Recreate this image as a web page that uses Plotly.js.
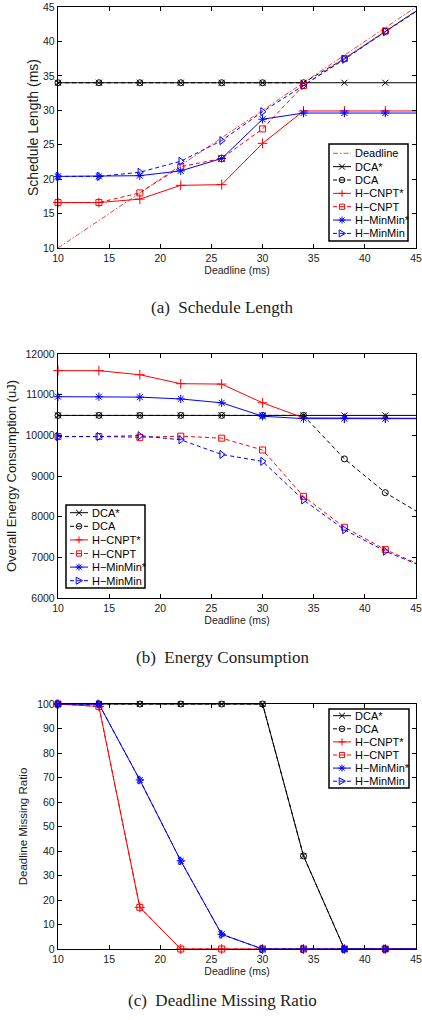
<!DOCTYPE html>
<html><head><meta charset="utf-8">
<script src="https://cdn.plot.ly/plotly-3.0.1.min.js"></script>
<style>html,body{margin:0;padding:0;background:#fff;}#chart{width:422px;height:1020px;}</style>
</head><body><div id="chart"></div>
<script>
// ---------- data ----------
const deadlines = [10, 14, 18, 22, 26, 30, 34, 38, 42, 46];
const seriesNames = ['Deadline', 'DCA*', 'DCA', 'H\u2212CNPT*', 'H\u2212CNPT', 'H\u2212MinMin*', 'H\u2212MinMin'];

// (a) Schedule Length (ms)
const slDeadline = [10, 14, 18, 22, 26, 30, 34, 38, 42, 46];
const slDCAstar  = [34, 34, 34, 34, 34, 34, 34, 34, 34, 34];
const slDCA      = [34, 34, 34, 34, 34, 34, 34, 37.5, 41.5, 45.4];
const slCNPTstar = [16.6, 16.6, 17.1, 19.1, 19.2, 25.2, 29.9, 29.9, 29.9, 29.9];
const slCNPT     = [16.6, 16.6, 18.0, 21.8, 23.0, 27.3, 33.6, 37.5, 41.5, 45.4];
const slMinStar  = [20.4, 20.4, 20.5, 21.2, 23.0, 28.7, 29.6, 29.6, 29.6, 29.6];
const slMin      = [20.4, 20.4, 21.0, 22.6, 25.6, 29.8, 33.6, 37.4, 41.4, 45.3];

// (b) Overall Energy Consumption (uJ)
const ecDCAstar  = [10490, 10490, 10490, 10490, 10490, 10490, 10490, 10490, 10490, 10490];
const ecDCA      = [10490, 10490, 10490, 10490, 10490, 10490, 10490, 9420, 8590, 7990];
const ecCNPTstar = [11590, 11590, 11490, 11270, 11260, 10800, 10430, 10420, 10420, 10420];
const ecCNPT     = [9970, 9970, 9950, 9980, 9930, 9640, 8500, 7740, 7190, 6750];
const ecMinStar  = [10950, 10950, 10940, 10895, 10800, 10470, 10410, 10410, 10410, 10410];
const ecMin      = [9970, 9970, 9990, 9890, 9530, 9360, 8410, 7680, 7150, 6740];

// (c) Deadline Missing Ratio
const dmDCAstar  = [100, 100, 100, 100, 100, 100, 38, 0, 0, 0];
const dmDCA      = [100, 100, 100, 100, 100, 100, 38, 0, 0, 0];
const dmCNPTstar = [100, 99, 17, 0, 0, 0, 0, 0, 0, 0];
const dmCNPT     = [100, 99, 17, 0, 0, 0, 0, 0, 0, 0];
const dmMinStar  = [100, 100, 69, 36, 6, 0, 0, 0, 0, 0];
const dmMin      = [100, 100, 69, 36, 6, 0, 0, 0, 0, 0];

const xTicks = [10, 15, 20, 25, 30, 35, 40, 45];
const captions = ['(a)  Schedule Length', '(b)  Energy Consumption', '(c)  Deadline Missing Ratio'];
const yTitles = ['Schedule Length (ms)', 'Overall Energy Consumption (uJ)', 'Deadline Missing Ratio'];
const xTitle = 'Deadline (ms)';

// ---------- styles ----------
const W = 422, H = 1020;
const styles = {
  'Deadline':      {color: 'rgba(255,0,0,0.85)', dash: '5px,2px,1.5px,2px', width: 0.9, symbol: null},
  'DCA*':          {color: '#000000', dash: 'solid', width: 1, symbol: 'x'},
  'DCA':           {color: '#000000', dash: '4px,3px', width: 1, symbol: 'circle'},
  'H\u2212CNPT*':  {color: '#ff0000', dash: 'solid', width: 1, symbol: 'cross'},
  'H\u2212CNPT':   {color: '#ff0000', dash: '4px,3px', width: 1, symbol: 'square'},
  'H\u2212MinMin*':{color: '#0000ff', dash: 'solid', width: 1, symbol: 'asterisk'},
  'H\u2212MinMin': {color: '#0000ff', dash: '4px,3px', width: 1, symbol: 'triangle-right'}
};
const plotlySymbol = {'x': 'x-thin-open', 'circle': 'circle-open', 'cross': 'cross-thin-open',
  'square': 'square-open', 'asterisk': 'asterisk-open', 'triangle-right': 'triangle-right-open'};
const symbolSize = {'x': 6, 'circle': 6, 'cross': 7, 'square': 6, 'asterisk': 7, 'triangle-right': 7};

function makeTrace(name, ys, ax) {
  const s = styles[name];
  const t = {
    x: deadlines, y: ys, name: name, type: 'scatter',
    mode: s.symbol ? 'lines+markers' : 'lines',
    line: {color: s.color, dash: s.dash, width: s.width},
    xaxis: 'x' + (ax === 1 ? '' : ax), yaxis: 'y' + (ax === 1 ? '' : ax),
    cliponaxis: false, showlegend: false, hoverinfo: 'x+y+name'
  };
  if (s.symbol) t.marker = {symbol: plotlySymbol[s.symbol], size: symbolSize[s.symbol], color: s.color, line: {color: s.color, width: 1}};
  return t;
}

const traces = [];
const setA = [slDeadline, slDCAstar, slDCA, slCNPTstar, slCNPT, slMinStar, slMin];
seriesNames.forEach((n, i) => traces.push(makeTrace(n, setA[i], 1)));
const setB = [ecDCAstar, ecDCA, ecCNPTstar, ecCNPT, ecMinStar, ecMin];
seriesNames.slice(1).forEach((n, i) => traces.push(makeTrace(n, setB[i], 2)));
const setC = [dmDCAstar, dmDCA, dmCNPTstar, dmCNPT, dmMinStar, dmMin];
seriesNames.slice(1).forEach((n, i) => traces.push(makeTrace(n, setC[i], 3)));

// ---------- layout ----------
const AX_FONT = 'Liberation Sans, Arial, sans-serif';
const px = x => x / W, py = y => 1 - y / H;
const xDom = [px(58), px(416)];
const yDoms = [[py(248), py(7)], [py(598), py(354)], [py(949), py(704)]];
const yRanges = [[10, 45], [6000, 12000], [0, 100]];
const yDticks = [5, 1000, 10];
const yTitleSizes = [14, 13, 11.5];
const yStandoffs = [1, 6, 7];

function xAxis(i) {
  return {
    domain: xDom, anchor: 'y' + (i === 1 ? '' : i), range: [10, 45], tickvals: xTicks,
    ticks: 'inside', ticklen: 4, tickcolor: '#000', mirror: 'ticks', showline: true,
    linecolor: '#000', linewidth: 1.2, showgrid: false, zeroline: false,
    tickfont: {family: AX_FONT, size: 10.5, color: '#1a1a1a'}, ticklabeloverflow: 'allow',
    title: {text: xTitle, font: {family: AX_FONT, size: 10.5, color: '#1a1a1a'}, standoff: 1},
    automargin: false
  };
}
function yAxis(i) {
  return {
    domain: yDoms[i - 1], anchor: 'x' + (i === 1 ? '' : i), range: yRanges[i - 1], dtick: yDticks[i - 1],
    tick0: yRanges[i - 1][0],
    tickformat: 'd', ticks: 'inside', ticklen: 4, tickcolor: '#000', mirror: 'ticks', showline: true,
    linecolor: '#000', linewidth: 1.2, showgrid: false, zeroline: false,
    tickfont: {family: AX_FONT, size: 10.5, color: '#1a1a1a'}, ticklabeloverflow: 'allow',
    title: {text: yTitles[i - 1], font: {family: AX_FONT, size: yTitleSizes[i - 1], color: '#1a1a1a'}, standoff: yStandoffs[i - 1]},
    automargin: false
  };
}

// ---------- manual MATLAB-style legends ----------
const shapes = [];
const annotations = [];
function glyph(sym, cx, cy, color) {
  const P = (x, y) => px(x).toFixed(5) + ',' + py(y).toFixed(5);
  const base = {xref: 'paper', yref: 'paper', line: {color: color, width: 1}, layer: 'above'};
  const r = 2.8;
  if (sym === 'circle') return [Object.assign({type: 'circle', x0: px(cx - r), x1: px(cx + r), y0: py(cy + r), y1: py(cy - r)}, base)];
  if (sym === 'square') return [Object.assign({type: 'rect', x0: px(cx - 2.6), x1: px(cx + 2.6), y0: py(cy + 2.6), y1: py(cy - 2.6)}, base)];
  let path = '';
  if (sym === 'x') path = 'M' + P(cx - 3, cy - 3) + 'L' + P(cx + 3, cy + 3) + 'M' + P(cx - 3, cy + 3) + 'L' + P(cx + 3, cy - 3);
  if (sym === 'cross') path = 'M' + P(cx - 3.5, cy) + 'L' + P(cx + 3.5, cy) + 'M' + P(cx, cy - 3.5) + 'L' + P(cx, cy + 3.5);
  if (sym === 'asterisk') path = 'M' + P(cx - 3.5, cy) + 'L' + P(cx + 3.5, cy) + 'M' + P(cx, cy - 3.5) + 'L' + P(cx, cy + 3.5) +
      'M' + P(cx - 2.5, cy - 2.5) + 'L' + P(cx + 2.5, cy + 2.5) + 'M' + P(cx - 2.5, cy + 2.5) + 'L' + P(cx + 2.5, cy - 2.5);
  if (sym === 'triangle-right') path = 'M' + P(cx - 2.8, cy - 3.5) + 'L' + P(cx + 3.5, cy) + 'L' + P(cx - 2.8, cy + 3.5) + 'Z';
  return [Object.assign({type: 'path', path: path}, base)];
}
function drawLegend(names, box, y0, step) {
  const [bx0, by0, bx1, by1] = box;
  shapes.push({type: 'rect', xref: 'paper', yref: 'paper', x0: px(bx0), x1: px(bx1), y0: py(by1), y1: py(by0),
    line: {color: '#000', width: 1.5}, fillcolor: '#fff', layer: 'above'});
  names.forEach((n, i) => {
    const s = styles[n];
    const y = y0 + i * step;
    shapes.push({type: 'line', xref: 'paper', yref: 'paper', x0: px(bx0 + 4), x1: px(bx0 + 22), y0: py(y), y1: py(y),
      line: {color: s.color, width: s.width, dash: s.dash}, layer: 'above'});
    if (s.symbol) glyph(s.symbol, bx0 + 13, y, s.color).forEach(g => shapes.push(g));
    annotations.push({xref: 'paper', yref: 'paper', x: px(bx0 + 24), y: py(y), xanchor: 'left', yanchor: 'middle',
      text: n, showarrow: false, font: {family: AX_FONT, size: 11, color: '#000'}});
  });
}
drawLegend(seriesNames, [329, 144, 408, 241], 153.3, 13.35);
drawLegend(seriesNames.slice(1), [66, 505, 145, 588], 512.7, 13.6);
drawLegend(seriesNames.slice(1), [329, 709, 409, 788], 715.7, 13.1);

// captions
const capY = [307, 657, 1000];
captions.forEach((c, i) => annotations.push({xref: 'paper', yref: 'paper', x: px(222), y: py(capY[i]),
  xanchor: 'center', yanchor: 'middle', text: c, showarrow: false,
  font: {family: 'Liberation Serif, Times New Roman, serif', size: 17, color: '#222'}}));

const layout = {
  width: W, height: H, margin: {l: 0, r: 0, t: 0, b: 0}, paper_bgcolor: '#fff', plot_bgcolor: '#fff',
  showlegend: false, font: {family: AX_FONT},
  xaxis: xAxis(1), yaxis: yAxis(1), xaxis2: xAxis(2), yaxis2: yAxis(2), xaxis3: xAxis(3), yaxis3: yAxis(3),
  shapes: shapes, annotations: annotations
};
Plotly.newPlot('chart', traces, layout, {displayModeBar: false, staticPlot: true});
</script></body></html>
